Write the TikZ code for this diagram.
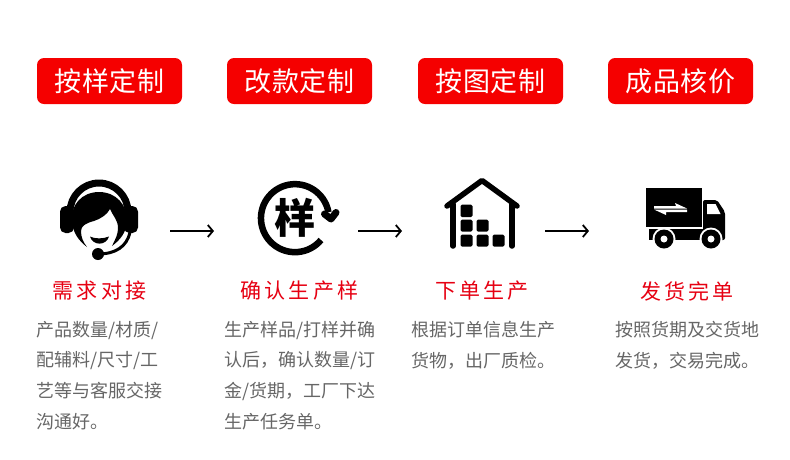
\documentclass[tikz,border=0pt]{standalone}
\usepackage{fontspec}
\usetikzlibrary{arrows.meta}
\newfontfamily\cjkfont{Noto Sans CJK SC}
\definecolor{btnred}{HTML}{F50000}
\definecolor{labelred}{HTML}{E60012}
\definecolor{bodygray}{HTML}{666666}
\begin{document}
\begin{tikzpicture}
  [x=1pt, y=-1pt,
   titlebox/.style={fill=btnred, rounded corners=7pt, minimum width=145pt, minimum height=46pt,
     inner sep=0pt, text=white, font=\cjkfont\fontsize{27}{30}\selectfont\addfontfeature{LetterSpace=3}},
   steplabel/.style={text=labelred, inner sep=0pt, font=\cjkfont\fontsize{21}{25}\selectfont\addfontfeature{LetterSpace=15}},
   bodytext/.style={anchor=north west, align=left, text=bodygray, inner sep=0pt,
     font=\cjkfont\fontsize{18}{30.6}\selectfont},
   flowarrow/.style={draw=black, line width=1.8pt, -{Straight Barb[length=5pt,width=12pt]}},
   crate/.style={fill=black, rounded corners=1.5pt}]
  \useasboundingbox (0,0) rectangle (790,459);

  % top buttons
  \node [titlebox] (anyang) at (109.5,81) {按样定制};
  \node [titlebox] (gaikuan) at (299.5,81) {改款定制};
  \node [titlebox] (antu) at (490.5,81) {按图定制};
  \node [titlebox] (chengpin) at (680.5,81) {成品核价};

  % headset
  \draw [line width=7pt] (70,212) arc [start angle=180, end angle=360, radius=29];
  \fill [rounded corners=5.5pt] (60,206) rectangle (74,233);
  \fill [rounded corners=5.5pt] (124,206) rectangle (138,233);
  \fill (72,222) .. controls (70,205) and (82,192) .. (99,192)
     .. controls (116,192) and (128,205) .. (127,222)
     .. controls (126,233) and (120,240) .. (112,246)
     .. controls (116,238) and (118,234) .. (118,228)
     .. controls (118,220) and (113,216) .. (110,209)
     .. controls (107,215) and (100,219) .. (94,221)
     .. controls (86,223) and (81,226) .. (81,231)
     .. controls (81,237) and (83,242) .. (87,247)
     .. controls (79,241) and (73,233) .. (72,222) -- cycle;
  \fill (90,236.5) .. controls (95,239) and (103,239) .. (109,236.5)
     .. controls (106,246) and (93,246) .. (90,236.5) -- cycle;
  \draw [line width=3pt] (98,254) .. controls (115,254) and (127,247) .. (130,232);
  \fill (98,254) circle [radius=6];

  % sample
  \draw [line width=6.5pt] (321,240) arc [start angle=40, end angle=350, radius=34];
  \draw [line width=7pt, line cap=round, line join=round] (324.5,214) -- (331,219) -- (336,212.5);
  \node [inner sep=0pt, font=\cjkfont\bfseries\fontsize{41}{44}\selectfont] (yang) at (295,218) {样};

  % warehouse
  \draw [line width=5.5pt, line cap=round, line join=round] (447,206) -- (482,180.5) -- (517,206);
  \draw [line width=5.5pt, line cap=round] (453,204) -- (453,246);
  \draw [line width=5.5pt, line cap=round] (512,204) -- (512,246);
  \fill [crate] (460.5,204.5) rectangle (472.5,217);
  \fill [crate] (460.5,219.5) rectangle (472.5,231.5);
  \fill [crate] (476.5,219.5) rectangle (488.5,231.5);
  \fill [crate] (460.5,234.5) rectangle (472.5,246.5);
  \fill [crate] (476.5,234.5) rectangle (488.5,246.5);
  \fill [crate] (492.5,234.5) rectangle (504.5,246.5);

  % truck
  \fill (646,188) rectangle (702,227);
  \fill [white] (654,206) -- (676,206) -- (675,203) -- (687,208.5) -- (654,208.5) -- cycle;
  \fill [white] (654,209.5) -- (687,209.5) -- (687,212) -- (666,212) -- (666,215) -- cycle;
  \fill (649,229) rectangle (704,240);
  \fill [rounded corners=2pt] (703,200) -- (717,200) -- (725,212) -- (725,240) -- (703,240) -- cycle;
  \fill [white] (707,204) -- (715.5,204) -- (720.5,214) -- (707,214) -- cycle;
  \fill [white] (664,239) circle [radius=11.5] (711,239) circle [radius=11.5];
  \fill (664,239) circle [radius=9.5] (711,239) circle [radius=9.5];
  \fill [white] (664,239) circle [radius=3.5] (711,239) circle [radius=3.5];

  % arrows
  \coordinate (a1) at (170,231);
  \coordinate (a2) at (214,231);
  \coordinate (b1) at (358,231);
  \coordinate (b2) at (402,231);
  \coordinate (c1) at (545,231);
  \coordinate (c2) at (589,231);
  \draw [flowarrow] (a1) -- (a2);
  \draw [flowarrow] (b1) -- (b2);
  \draw [flowarrow] (c1) -- (c2);

  % step names
  \node [steplabel] (xuqiu) at (99.5,291) {需求对接};
  \node [steplabel] (queren) at (299.5,291) {确认生产样};
  \node [steplabel] (xiadan) at (482,291) {下单生产};
  \node [steplabel] (fahuo) at (687,291) {发货完单};

  % descriptions
  \node [bodytext] (xuqiutext) at (36,321) {产品数量/材质/\\配辅料/尺寸/工\\艺等与客服交接\\沟通好。};
  \node [bodytext] (querentext) at (224,321) {生产样品/打样并确\\认后，确认数量/订\\金/货期，工厂下达\\生产任务单。};
  \node [bodytext] (xiadantext) at (411,321) {根据订单信息生产\\货物，出厂质检。};
  \node [bodytext] (fahuotext) at (615,321) {按照货期及交货地\\发货，交易完成。};
\end{tikzpicture}
\end{document}
